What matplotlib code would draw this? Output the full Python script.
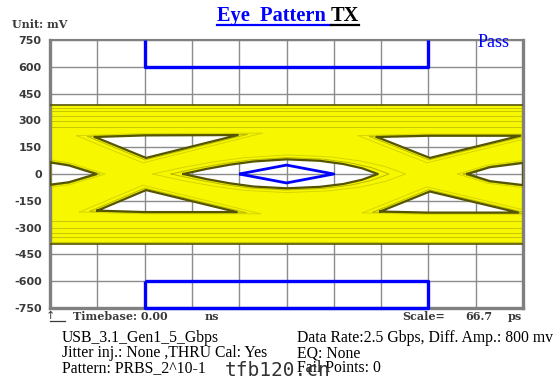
import matplotlib
matplotlib.use('Agg')
from matplotlib import pyplot as plt
from matplotlib.path import Path
from matplotlib.patches import PathPatch
from matplotlib.lines import Line2D
import numpy as np

# axis values (mV) and time divisions
yticks = [750, 600, 450, 300, 150, 0, -150, -300, -450, -600, -750]
xdivs = list(range(0, 11))

# mask (blue) outlines, x in divisions, y in mV
mask_top = [(2, 750), (2, 600), (8, 600), (8, 750)]
mask_bot = [(2, -600), (8, -600), (8, -750), (2, -750), (2, -600)]
mask_eye = [(4, 0), (5, 50), (6, 0), (5, -50), (4, 0)]

# eye envelope and openings
env_top = 385
env_bot = -390
eye_c = [(2.82, 0), (3.3, 28), (3.8, 52), (4.3, 70), (5.0, 82), (5.7, 74), (6.2, 56),
         (6.6, 32), (6.93, 0), (6.6, -32), (6.2, -56), (5.7, -72), (5.0, -80), (4.3, -70),
         (3.8, -52), (3.3, -28)]
eye_l = [(0, 65), (0.4, 48), (0.98, 0), (0.4, -46), (0, -60)]
eye_r = [(8.82, 0), (9.3, 38), (10, 62), (10, -62), (9.3, -40)]
tri_ul = [(0.95, 207), (2.0, 216), (3.97, 218), (2.03, 90)]
tri_ll = [(1.0, -205), (2.0, -213), (3.95, -213), (2.03, -90)]
tri_ur = [(6.91, 207), (8.0, 214), (9.94, 214), (8.03, 90)]
tri_lr = [(6.98, -210), (8.0, -216), (9.9, -216), (8.03, -98)]
holes = [eye_c, eye_l, eye_r, tri_ul, tri_ll, tri_ur, tri_lr]
streaks = [372, 350, 322, 298, 262, -262, -300, -330, -355, -378]

info_left = ["USB_3.1_Gen1_5_Gbps", "Jitter inj.: None ,THRU Cal: Yes", "Pattern: PRBS_2^10-1"]
info_right = ["Data Rate:2.5 Gbps, Diff. Amp.: 800 mv", "EQ: None", "Fail Points: 0"]

serif = ['Liberation Serif', 'DejaVu Serif']
wide = ['DejaVu Serif']
yellow = '#f7f700'
olive = '#555500'
blue = '#0000ff'
grey_txt = '#3a3a3a'

fig = plt.figure(figsize=(5.6, 3.92), dpi=100)
ax = fig.add_axes([50/560, 1-308/392, 473/560, 268/392])
ax.set_xlim(0, 10)
ax.set_ylim(-750, 750)
ax.set_xticks(xdivs)
ax.set_yticks(yticks)
ax.set_xticklabels([])
ax.set_yticklabels([str(v) for v in yticks], family='DejaVu Sans', fontsize=8,
                   fontweight='bold', color=grey_txt)
ax.tick_params(length=0, pad=6)
ax.grid(True, color='#8c8c8c', lw=1.0)
ax.set_axisbelow(True)
for side, sp in ax.spines.items():
    sp.set_color('#808080')
    sp.set_linewidth(1.5 if side == 'top' else 2.4)

# yellow eye: envelope with openings cut out
def ring(pts, ccw):
    p = np.array(pts, float)
    area = np.sum(p[:, 0]*np.roll(p[:, 1], -1) - np.roll(p[:, 0], -1)*p[:, 1])
    if (area > 0) != ccw:
        p = p[::-1]
    return p

verts, codes = [], []
outer = ring([(0, env_bot), (10, env_bot), (10, env_top), (0, env_top)], True)
for r in [outer] + [ring(h, False) for h in holes]:
    verts += list(r) + [r[0]]
    codes += [Path.MOVETO] + [Path.LINETO]*(len(r)-1) + [Path.CLOSEPOLY]
eye = PathPatch(Path(verts, codes), facecolor=yellow, edgecolor='none', zorder=2)
ax.add_patch(eye)

# trace texture: streaks and widened copies of the openings, kept inside the yellow
for lv in streaks:
    ln, = ax.plot([0, 10], [lv, lv], color='#9a9a00', lw=0.6, alpha=0.6, zorder=3)
    ln.set_clip_path(eye)
for h in holes:
    p = np.array(h + [h[0]], float)
    c = p[:-1].mean(axis=0)
    for k, a in [(1.12, 0.55), (1.3, 0.3)]:
        q = c + (p - c)*k
        ln, = ax.plot(q[:, 0], q[:, 1], color='#8a8a00', lw=0.7, alpha=a, zorder=3)
        ln.set_clip_path(eye)
    ax.plot(p[:, 0], p[:, 1], color=olive, lw=1.6, zorder=3)
ax.plot([0, 10], [env_top, env_top], color=olive, lw=1.2, zorder=3)
ax.plot([0, 10], [env_bot, env_bot], color=olive, lw=1.2, zorder=3)

for m, w in [(mask_top, 2.4), (mask_bot, 2.4), (mask_eye, 2.0)]:
    p = np.array(m)
    ax.plot(p[:, 0], p[:, 1], color=blue, lw=w, zorder=5, clip_on=False, solid_capstyle='butt')

fig.text(510/560, 1-47/392, "Pass", color=blue, family=serif, fontsize=13,
         ha='right', va='baseline', zorder=6)

# title, blue part + black part, underlined
ren = fig.canvas.get_renderer()
t1 = fig.text(0, 1-21/392, "Eye  Pattern ", color=blue, family=serif, fontsize=14.7,
              fontweight='bold', va='baseline', ha='left')
t2 = fig.text(0, 1-21/392, "TX", color='black', family=serif, fontsize=14.7,
              fontweight='bold', va='baseline', ha='left')
w1 = t1.get_window_extent(ren).width
w2 = t2.get_window_extent(ren).width
x0 = 288 - (w1 + w2)/2
t1.set_x(x0/560)
t2.set_x((x0 + w1)/560)
uy = 1 - 24.5/392
fig.add_artist(Line2D([x0/560, (x0+w1)/560], [uy, uy], color=blue, lw=1.6))
fig.add_artist(Line2D([(x0+w1)/560, (x0+w1+w2)/560], [uy, uy], color='black', lw=1.6))

fig.text(12/560, 1-25/392, "Unit: mV", family=wide, fontsize=8, fontweight='bold',
         color=grey_txt, va='center')

# timebase / scale row
fig.text(46/560, 1-316/392, "\u2191", fontsize=8, color=grey_txt, va='center')
fig.add_artist(Line2D([50/560, 65/560], [1-321/392, 1-321/392], color=grey_txt, lw=0.9))
row = [(73, "Timebase: 0.00"), (205, "ns"), (402, "Scale="), (465, "66.7"), (508, "ps")]
for x, s in row:
    fig.text(x/560, 1-316/392, s, family=wide, fontsize=8, fontweight='bold',
             color=grey_txt, va='center')

for i, s in enumerate(info_left):
    fig.text(62/560, 1-(338+15*i)/392, s, family=serif, fontsize=11.3, va='center')
for i, s in enumerate(info_right):
    fig.text(297/560, 1-(338+15*i)/392, s, family=serif, fontsize=11.3, va='center')

fig.text(225/560, 1-371/392, "tfb120.cn", family='DejaVu Sans Mono', fontsize=14,
         color='#333333', va='center')

fig.savefig('out.png', dpi=100)
